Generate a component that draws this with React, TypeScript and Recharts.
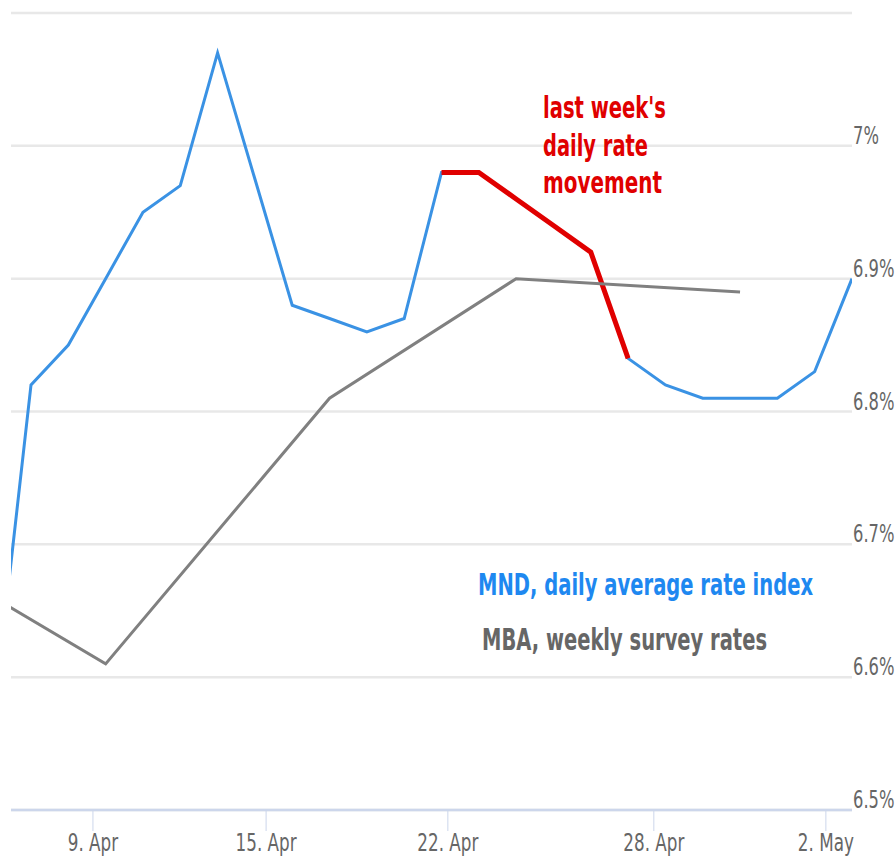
import { CartesianGrid, Line, LineChart, XAxis, YAxis } from 'recharts'

// business-day index -> MND daily index
const mndDays = [-1, 0, 1, 2, 3, 4, 5, 6, 7, 8, 9, 10, 11, 12, 13, 14, 15, 16, 17, 18, 19, 20, 21, 22]
const mndRates = [6.57, 6.82, 6.85, 6.9, 6.95, 6.97, 7.07, 6.975, 6.88, 6.87, 6.86, 6.87, 6.98, 6.98, 6.96, 6.94, 6.92, 6.84, 6.82, 6.81, 6.81, 6.81, 6.83, 6.9]

// highlighted stretch (last week)
const lastWeekFrom = 11
const lastWeekTo = 16

// MBA weekly survey
const mbaDays = [-4, 2, 8, 13, 19]
const mbaRates = [6.71, 6.61, 6.81, 6.9, 6.89]

const xTicks = [1.66, 6.3, 11.17, 16.69, 21.3]
const xLabels = ['9. Apr', '15. Apr', '22. Apr', '28. Apr', '2. May']
const yTicks = [6.5, 6.6, 6.7, 6.8, 6.9, 7.0, 7.1]

const FONT = '"DejaVu Sans", sans-serif'
const AXIS_COLOR = '#ccd6eb'
const LABEL_COLOR = '#666666'

const mnd = mndDays.map((x, i) => ({ x, v: mndRates[i] }))
const lastWeek = mnd.filter(d => d.x >= lastWeekFrom && d.x <= lastWeekTo)
const mba = mbaDays.map((x, i) => ({ x, v: mbaRates[i] }))

function XTick({ x, y, payload }: any) {
  const i = xTicks.indexOf(payload.value)
  return (
    <text transform={`translate(${x},${y + 20}) scale(0.7,1)`} textAnchor="middle"
          fontFamily={FONT} fontSize={24} fill={LABEL_COLOR}>
      {xLabels[i]}
    </text>
  )
}

function YTick({ x, y, payload }: any) {
  if (payload.value > 7.05) return null
  return (
    <text transform={`translate(${x},${y - 2}) scale(0.68,1)`} textAnchor="start"
          fontFamily={FONT} fontSize={24} fill={LABEL_COLOR}>
      {`${Number(payload.value.toFixed(1))}%`}
    </text>
  )
}

function Notes() {
  const bold = { fontFamily: FONT, fontWeight: 700, fontSize: 30 }
  return (
    <svg width={895} height={859} style={{ position: 'absolute', left: 0, top: 0, pointerEvents: 'none' }}>
      <text x={543} y={118} textLength={123} lengthAdjust="spacingAndGlyphs" fill="#e00000" {...bold}>last week's</text>
      <text x={543} y={156} textLength={105} lengthAdjust="spacingAndGlyphs" fill="#e00000" {...bold}>daily rate</text>
      <text x={543} y={193} textLength={119} lengthAdjust="spacingAndGlyphs" fill="#e00000" {...bold}>movement</text>
      <text x={478} y={595} textLength={335} lengthAdjust="spacingAndGlyphs" fill="#1e88f0" {...bold}>MND, daily average rate index</text>
      <text x={482} y={650} textLength={285} lengthAdjust="spacingAndGlyphs" fill="#666666" {...bold}>MBA, weekly survey rates</text>
    </svg>
  )
}

export default function App() {
  return (
    <div style={{ position: 'absolute', left: 0, top: 0, width: 895, height: 859, background: '#fff' }}>
      <LineChart width={895} height={859} margin={{ top: 13, right: 0, left: 11, bottom: 0 }}>
        <CartesianGrid horizontal vertical={false} stroke="#e8e8e8" strokeWidth={2.5} />
        <XAxis type="number" dataKey="x" domain={[-0.536, 22]} allowDataOverflow ticks={xTicks}
               interval={0} height={49} tickSize={21} tickMargin={0}
               axisLine={{ stroke: AXIS_COLOR, strokeWidth: 2.5 }} tickLine={{ stroke: AXIS_COLOR, strokeWidth: 1 }}
               tick={<XTick />} />
        <YAxis orientation="right" type="number" domain={[6.5, 7.1]} ticks={yTicks} allowDataOverflow
               interval={0} width={43} axisLine={false} tickLine={false} tickSize={0} tickMargin={1}
               tick={<YTick />} />
        <Line data={mnd} dataKey="v" stroke="#3a92e4" strokeWidth={3} dot={false} isAnimationActive={false} />
        <Line data={lastWeek} dataKey="v" stroke="#e00000" strokeWidth={5} dot={false} isAnimationActive={false} />
        <Line data={mba} dataKey="v" stroke="#808080" strokeWidth={3} dot={false} isAnimationActive={false} />
      </LineChart>
      <Notes />
    </div>
  )
}
